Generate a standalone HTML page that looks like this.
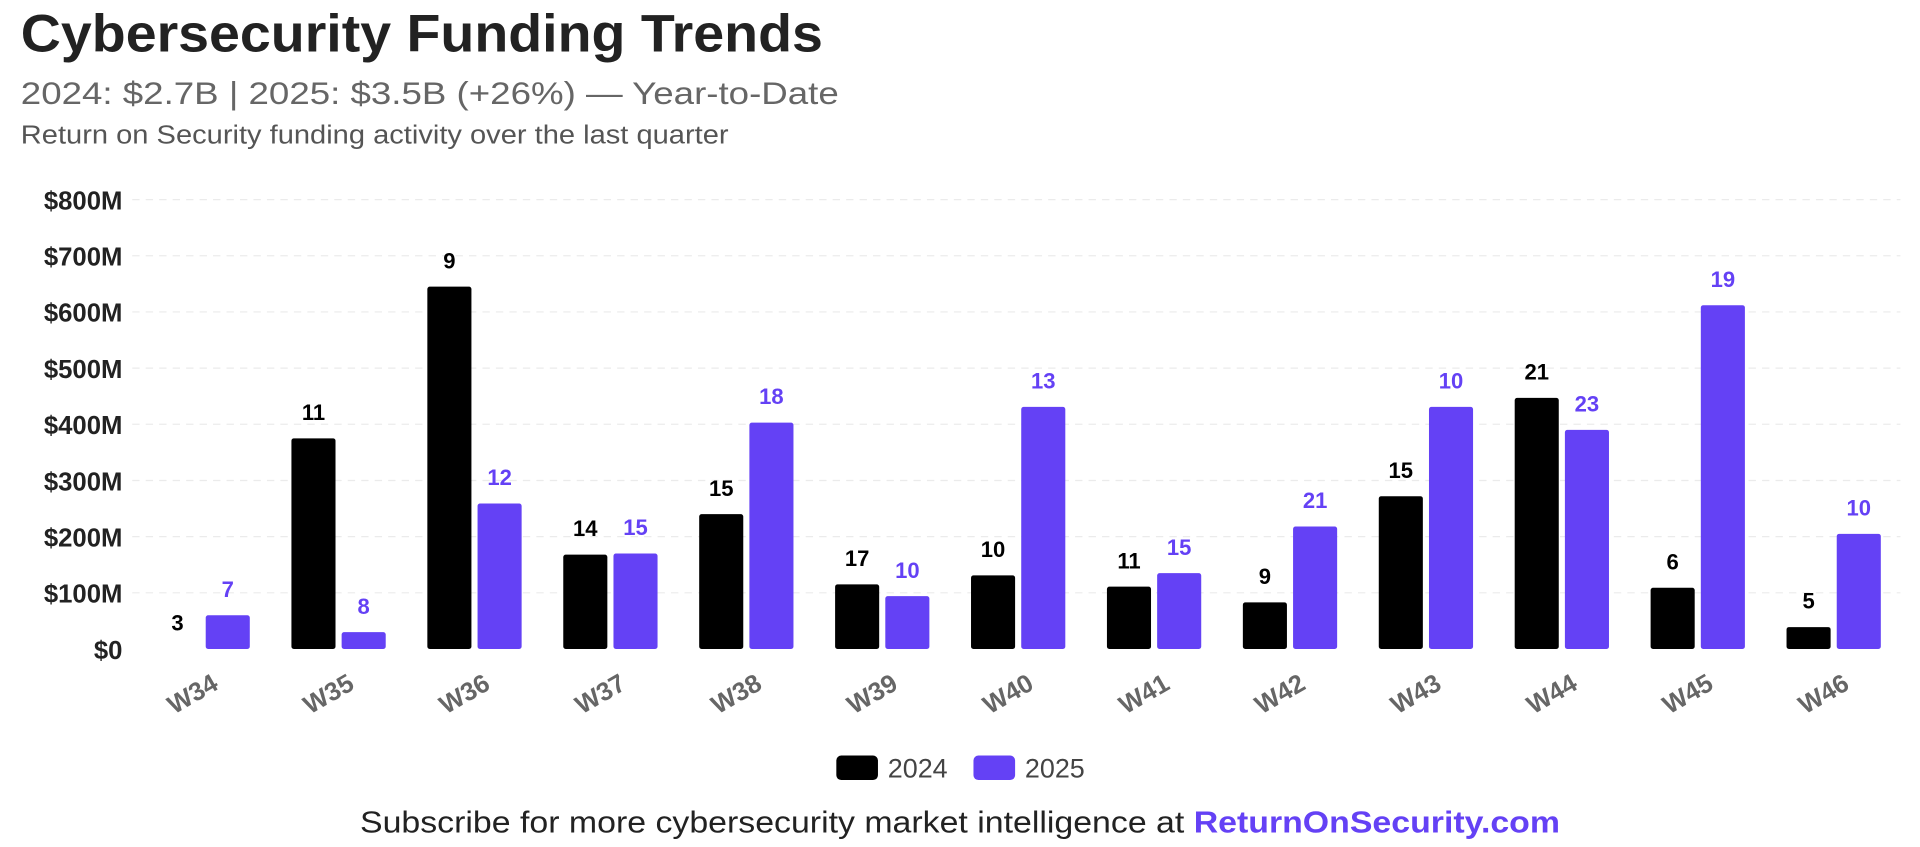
<!DOCTYPE html>
<html><head><meta charset="utf-8"><style>
html,body{margin:0;padding:0;background:#fff}
svg{display:block}
text{font-family:"Liberation Sans",Arial,sans-serif}
</style></head><body>
<svg id="chart" width="1920" height="847" viewBox="0 0 1568 691.7" xmlns="http://www.w3.org/2000/svg">
<text x="17" y="42" font-size="43" font-weight="bold" fill="#222" textLength="655" lengthAdjust="spacingAndGlyphs">Cybersecurity Funding Trends</text>
<text x="17" y="85" font-size="26" fill="#666" textLength="668" lengthAdjust="spacingAndGlyphs">2024: $2.7B | 2025: $3.5B (+26%) — Year-to-Date</text>
<text x="17" y="117" font-size="21" fill="#555" textLength="578" lengthAdjust="spacingAndGlyphs">Return on Security funding activity over the last quarter</text>
<g id="grid"></g><g id="bars"></g><g id="xlabels"></g>
<g>
<rect x="683" y="617" width="34" height="20" rx="4" fill="#000"/>
<text x="725" y="635" font-size="22" fill="#444">2024</text>
<rect x="795" y="617" width="34" height="20" rx="4" fill="#6441f5"/>
<text x="837" y="635" font-size="22" fill="#444">2025</text>
</g>
<text x="784" y="680" font-size="25" fill="#222" text-anchor="middle" textLength="980" lengthAdjust="spacingAndGlyphs">Subscribe for more cybersecurity market intelligence at <tspan font-weight="bold" fill="#6441f5">ReturnOnSecurity.com</tspan></text>
</svg>
<script>
const categories=["W34","W35","W36","W37","W38","W39","W40","W41","W42","W43","W44","W45","W46"];
const values2024=[0,375,645,168,240,115,131,111,83,272,447,109,39];
const values2025=[60,30,259,170,403,94,431,135,218,431,390,612,205];
const counts2024=[3,11,9,14,15,17,10,11,9,15,21,6,5];
const counts2025=[7,8,12,15,18,10,13,15,21,10,23,19,10];
const yTicks=[0,100,200,300,400,500,600,700,800];
const yTickLabels=["$0","$100M","$200M","$300M","$400M","$500M","$600M","$700M","$800M"];
const NS="http://www.w3.org/2000/svg";
const y0=530,y1=163,yMax=800,x0=110,groupW=111,barW=36,gap=5;
function yScale(v){return y0-(v/yMax)*(y0-y1);}
function xCenter(i){return x0+groupW*i+groupW/2;}
function mk(tag,attrs,parent){const e=document.createElementNS(NS,tag);for(const k in attrs)e.setAttribute(k,attrs[k]);parent.appendChild(e);return e;}
const grid=document.getElementById('grid'),bars=document.getElementById('bars'),xl=document.getElementById('xlabels');
yTicks.forEach((t,i)=>{
  const y=yScale(t);
  if(t>0){const l=mk('line',{x1:108,x2:1552,y1:y,y2:y,stroke:'#ebebeb','stroke-dasharray':'6,5'},grid);
  
  }
  const tx=mk('text',{x:100,y:y+8,'font-size':21,'font-weight':'bold',fill:'#222','text-anchor':'end'},grid);
  tx.textContent=yTickLabels[i];
  
  
});
categories.forEach((c,i)=>{
  const cx=xCenter(i);
  [[values2024,counts2024,'#000',cx-gap/2-barW,'2024'],[values2025,counts2025,'#6441f5',cx+gap/2,'2025']].forEach(([vals,cnts,col,x,yr])=>{
    const top=yScale(vals[i]);
    const r=mk('rect',{x:x,y:top,width:barW,height:y0-top,fill:col,rx:2},bars);
    
    
    const t=mk('text',{x:x+barW/2,y:top-15,'font-size':18,'font-weight':'bold',fill:col,'text-anchor':'middle'},bars);
    t.textContent=cnts[i];
    
    
  });
  const lx=cx+14,ly=562;
  const t=mk('text',{x:lx,y:ly,'font-size':21,'font-weight':'bold',fill:'#666','text-anchor':'end',transform:`rotate(-30 ${lx} ${ly})`},xl);
  t.textContent=c;
  
  
});
</script>
</body></html>
